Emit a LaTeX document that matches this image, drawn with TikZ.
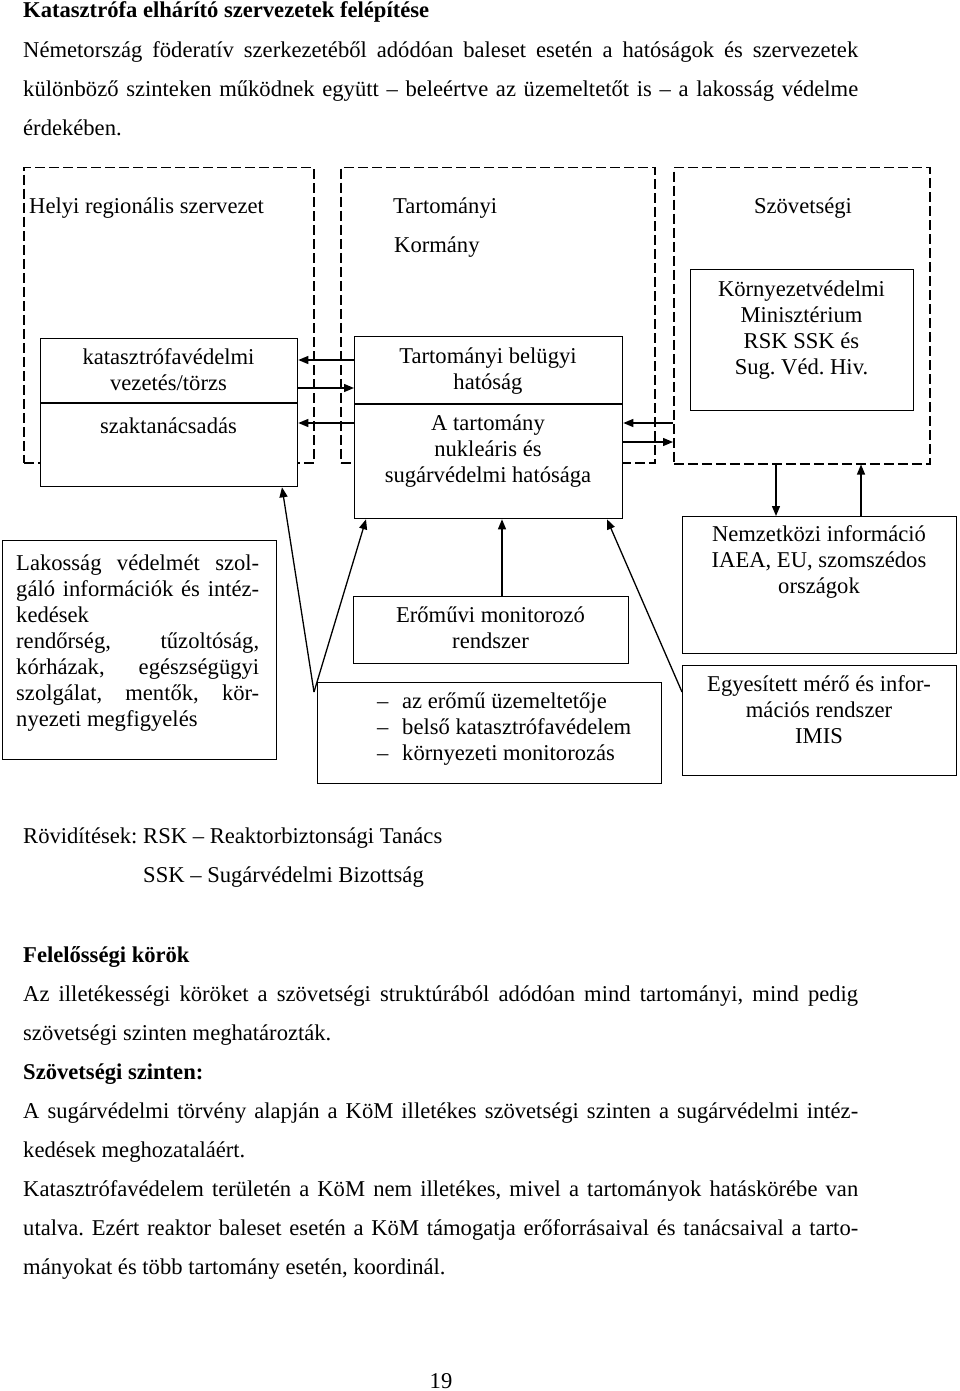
\documentclass[tikz,border=0pt]{standalone}
\usepackage{fontspec}
\setmainfont{Liberation Serif}
\usetikzlibrary{arrows.meta}
\hyphenpenalty=10000
\tolerance=9999
\frenchspacing

\tikzset{
  box/.style={draw, line width=1.3pt, fill=white, inner sep=0pt, anchor=north west},
  dbox/.style={draw, line width=1.5pt, dash pattern=on 10pt off 4pt, inner sep=0pt, anchor=north west},
  txt/.style={inner sep=0pt, align=center, font=\fontsize{22.6}{26}\selectfont,
    execute at begin node=\strut, execute at end node=\strut},
  body/.style={inner sep=0pt, text width=835pt, align=justify, anchor=north west,
    font=\fontsize{22.6}{39}\selectfont, execute at end node=\strut},
  arr/.style={-{Triangle[length=10pt,width=8pt]}, line width=1.3pt},
}

\begin{document}
\begin{tikzpicture}[x=1pt, y=-1pt]
  \useasboundingbox (0,0) rectangle (960,1391);

  % text above the chart
  \node[txt, anchor=base west, font=\fontsize{22.6}{26}\selectfont\bfseries] (cim) at (23,18)
    {Katasztrófa elhárító szervezetek felépítése};
  \node[body] (bevezet) at (23,29.7)
    {\strut Németország föderatív szerkezetéből adódóan baleset esetén a hatóságok és szervezetek\linebreak
     különböző szinteken működnek együtt – beleértve az üzemeltetőt is – a lakosság védelme\linebreak
     érdekében.};

  % the three levels
  \node[dbox, minimum width=290pt, minimum height=295pt] (helyi) at (23,167) {};
  \node[dbox, minimum width=314pt, minimum height=295pt] (tart) at (340,167) {};
  \node[dbox, minimum width=256pt, minimum height=296pt] (szov) at (673,167) {};

  \node[txt, anchor=base west] (helyi-t) at (29,213) {Helyi regionális szervezet};
  \node[txt, anchor=base west] (tart-t) at (393,213) {Tartományi};
  \node[txt, anchor=base west] (korm-t) at (394,252) {Kormány};
  \node[txt, anchor=base] (szov-t) at (803,213) {Szövetségi};

  % boxes
  \node[box, minimum width=257pt, minimum height=148pt] (katv) at (40,338) {};
  \node[box, minimum width=268pt, minimum height=182pt] (belugy) at (354,336) {};
  \node[box, minimum width=223pt, minimum height=141pt] (kom) at (690,269) {};
  \node[box, minimum width=274pt, minimum height=219pt] (lakos) at (2,540) {};
  \node[box, minimum width=275pt, minimum height=67pt] (eromu) at (353,596) {};
  \node[box, minimum width=344pt, minimum height=101pt] (uzem) at (317,682) {};
  \node[box, minimum width=274pt, minimum height=137pt] (nemz) at (682,516) {};
  \node[box, minimum width=274pt, minimum height=110pt] (imis) at (682,665) {};

  \draw[line width=1.3pt] (katv.west |- 0,403) -- (katv.east |- 0,403);
  \draw[line width=1.3pt] (belugy.west |- 0,404) -- (belugy.east |- 0,404);

  % box texts
  \node[txt, anchor=north] (katv-t) at (168.5,348.8) {katasztrófavédelmi\\vezetés/törzs};
  \node[txt, anchor=base] (szakt-t) at (168.5,433) {szaktanácsadás};
  \node[txt, anchor=north] (belugy-t) at (488,347.8) {Tartományi belügyi\\hatóság};
  \node[txt, anchor=north] (nukl-t) at (488,414.8) {A tartomány\\nukleáris és\\sugárvédelmi hatósága};
  \node[txt, anchor=north] (kom-t) at (801.5,280.8)
    {Környezetvédelmi\\Minisztérium\\RSK SSK és\\Sug. Véd. Hiv.};
  \node[body, text width=243pt, font=\fontsize{22.6}{26}\selectfont] (lakos-t) at (16,551.8)
    {\strut Lakosság védelmét szol-\linebreak gáló információk és intéz-\linebreak kedések\\
     rendőrség, tűzoltóság,\linebreak kórházak, egészségügyi\linebreak
     szolgálat, mentők, kör-\linebreak nyezeti megfigyelés};
  \node[txt, anchor=north] (eromu-t) at (490.5,606.8) {Erőművi monitorozó\\rendszer};
  \node[txt, anchor=north west, align=left] (uzem-t) at (377,692.8)
    {\makebox[25pt][l]{–}az erőmű üzemeltetője\\
     \makebox[25pt][l]{–}belső katasztrófavédelem\\
     \makebox[25pt][l]{–}környezeti monitorozás};
  \node[txt, anchor=north] (nemz-t) at (819,525.8)
    {Nemzetközi információ\\IAEA, EU, szomszédos\\országok};
  \node[txt, anchor=north] (imis-t) at (819,675.8)
    {Egyesített mérő és infor-\\mációs rendszer\\IMIS};

  % connectors
  \draw[arr] (belugy.west |- 0,360) -- (katv.east |- 0,360);
  \draw[arr] (katv.east |- 0,388) -- (belugy.west |- 0,388);
  \draw[arr] (belugy.west |- 0,423) -- (katv.east |- 0,423);
  \draw[arr] (szov.west |- 0,423) -- (belugy.east |- 0,423);
  \draw[arr] (belugy.east |- 0,442) -- (szov.west |- 0,442);
  \draw[arr] (szov.south -| 776,0) -- (nemz.north -| 776,0);
  \draw[arr] (nemz.north -| 861,0) -- (szov.south -| 861,0);

  \coordinate (csucs) at (314,692);
  \draw[arr] (csucs) -- (katv.south -| 282,0);
  \draw[arr] (csucs) -- (belugy.south -| 366,0);
  \draw[arr] (eromu.north -| 502,0) -- (belugy.south -| 502,0);
  \draw[arr] (imis.west |- 0,692) -- (belugy.south -| 607,0);

  % text below the chart
  \node[txt, anchor=base west] (rov-t) at (23,843) {Rövidítések:};
  \node[body, text width=600pt] (rov) at (143,815.7)
    {\strut RSK – Reaktorbiztonsági Tanács\\SSK – Sugárvédelmi Bizottság};
  \node[body] (korok) at (23,934.7)
    {\strut\textbf{Felelősségi körök}\\
     Az illetékességi köröket a szövetségi struktúrából adódóan mind tartományi, mind pedig\linebreak
     szövetségi szinten meghatározták.\\
     \textbf{Szövetségi szinten:}\\
     A sugárvédelmi törvény alapján a KöM illetékes szövetségi szinten a sugárvédelmi intéz-\linebreak
     kedések meghozataláért.\\
     Katasztrófavédelem területén a KöM nem illetékes, mivel a tartományok hatáskörébe van\linebreak
     utalva. Ezért reaktor baleset esetén a KöM támogatja erőforrásaival és tanácsaival a tarto-\linebreak
     mányokat és több tartomány esetén, koordinál.};
  \node[inner sep=0pt, anchor=base, font=\fontsize{22.6}{26}\selectfont] (oldal) at (441,1388) {19};
\end{tikzpicture}
\end{document}
